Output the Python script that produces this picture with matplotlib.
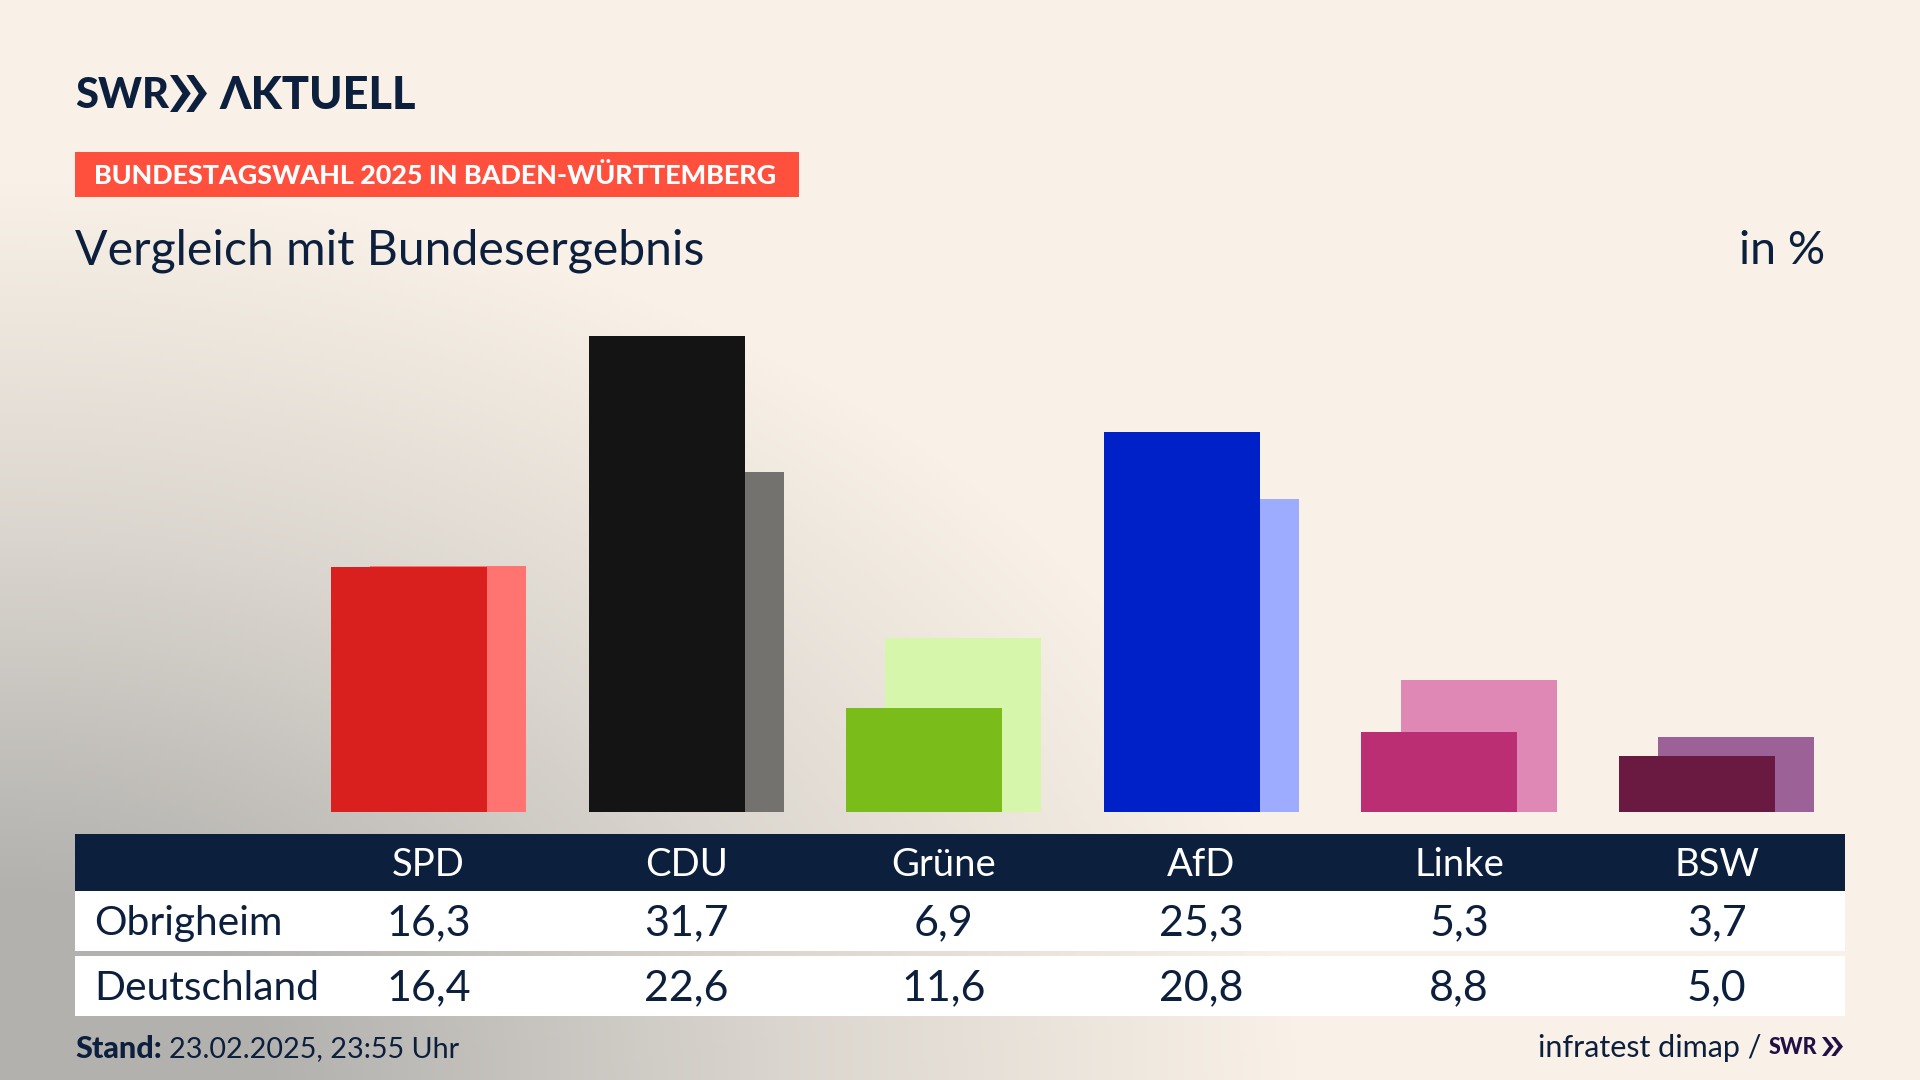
import numpy as np
import matplotlib
matplotlib.use('Agg')
import matplotlib.pyplot as plt
from matplotlib.colors import LinearSegmentedColormap
from matplotlib.patches import Polygon, Rectangle

plt.rcParams['font.family'] = ['Lato', 'DejaVu Sans']

# Data
parties = ['SPD', 'CDU', 'Grüne', 'AfD', 'Linke', 'BSW']
obrigheim = [16.3, 31.7, 6.9, 25.3, 5.3, 3.7]
deutschland = [16.4, 22.6, 11.6, 20.8, 8.8, 5.0]
front_colors = ['#D9201E', '#141414', '#7ABD1A', '#0021C8', '#BC2E74', '#6A1A40']
back_colors = ['#FF7370', '#74726F', '#D6F7AB', '#9EACFF', '#DF88B6', '#9C6197']
row_labels = ['Obrigheim', 'Deutschland']

NAVY = '#0C1F3D'
W, H = 1920, 1080
fig = plt.figure(figsize=(19.2, 10.8), dpi=100)

# overlay in pixel coords, background + table + text
ax = fig.add_axes([0, 0, 1, 1])
ax.set_xlim(0, W)
ax.set_ylim(H, 0)
ax.axis('off')

# background: grey glow out of the bottom left corner
yy, xx = np.mgrid[0:H:270j, 0:W:480j]
glow = np.clip(1 - np.sqrt((xx / 1300) ** 2 + ((H - yy) / 900) ** 2), 0, 1)
bg_cmap = LinearSegmentedColormap.from_list('bg', ['#F9F1E7', '#DAD5CE', '#B2B1AE'])
ax.imshow(glow, extent=[0, W, H, 0], cmap=bg_cmap, vmin=0, vmax=0.8, aspect='auto', zorder=0)


def chevrons(x, y, w, h, color):
    # the two >> of the SWR logo
    cw = w * 0.56
    for off in (0, w - cw):
        pts = [(x + off, y), (x + off + cw * 0.36, y), (x + off + cw, y + h / 2),
               (x + off + cw * 0.36, y + h), (x + off, y + h), (x + off + cw * 0.6, y + h / 2)]
        ax.add_patch(Polygon(pts, closed=True, color=color, lw=0, zorder=3))


# logo
ax.text(75, 96, 'SWR', fontsize=30, fontweight='black', color=NAVY, va='center', ha='left', zorder=3)
chevrons(170, 75, 37, 37, NAVY)
ax.text(219, 96, 'ΛKTUELL', fontsize=32.5, fontweight='black', color=NAVY, va='center', ha='left', zorder=3)

# badge + titles
ax.add_patch(Rectangle((75, 152), 724, 45, color='#FF4F3D', lw=0, zorder=2))
ax.text(94, 176, 'BUNDESTAGSWAHL 2025 IN BADEN-WÜRTTEMBERG', fontsize=19.4, fontweight='black',
        color='white', va='center', ha='left', zorder=3)
ax.text(75, 251, 'Vergleich mit Bundesergebnis', fontsize=34.7, color=NAVY, va='center', ha='left', zorder=3)
ax.text(1825, 251, 'in %', fontsize=33.5, color=NAVY, va='center', ha='right', zorder=3)

# bars, 15.03 px per percent point, groups 257.6 px apart
BASE, TOP = 812, 300
X0, STEP = 428.6, 257.6
ax_b = fig.add_axes([75 / W, 1 - BASE / H, 1770 / W, (BASE - TOP) / H])
ax_b.set_xlim((75 - X0) / STEP, (1845 - X0) / STEP)
ax_b.set_ylim(0, (BASE - TOP) / 15.03)
ax_b.axis('off')
ax_b.patch.set_alpha(0)
pos = np.arange(len(parties))
ax_b.bar(pos + 0.076, deutschland, width=0.606, color=back_colors, zorder=1)
ax_b.bar(pos - 0.076, obrigheim, width=0.606, color=front_colors, zorder=2)

# table
ax.add_patch(Rectangle((75, 834), 1770, 57, color=NAVY, lw=0, zorder=2))
ax.add_patch(Rectangle((75, 891), 1770, 60, color='white', lw=0, zorder=2))
ax.add_patch(Rectangle((75, 956), 1770, 60, color='white', lw=0, zorder=2))
for i, p in enumerate(parties):
    cx = X0 + STEP * i
    ax.text(cx, 865, p, fontsize=27.5, color='white', va='center', ha='center', zorder=3)
    ax.text(cx, 923, f'{obrigheim[i]:.1f}'.replace('.', ','), fontsize=31, color=NAVY, va='center', ha='center', zorder=3)
    ax.text(cx, 988, f'{deutschland[i]:.1f}'.replace('.', ','), fontsize=31, color=NAVY, va='center', ha='center', zorder=3)
ax.text(94, 923, row_labels[0], fontsize=29.3, color=NAVY, va='center', ha='left', zorder=3)
ax.text(94, 988, row_labels[1], fontsize=29.3, color=NAVY, va='center', ha='left', zorder=3)

# footer
ax.text(75, 1049, 'Stand:', fontsize=22, fontweight='black', color=NAVY, va='center', ha='left', zorder=3)
ax.text(169, 1049, '23.02.2025, 23:55 Uhr', fontsize=20.7, color=NAVY, va='center', ha='left', zorder=3)
ax.text(1761, 1048, 'infratest dimap /', fontsize=22, color=NAVY, va='center', ha='right', zorder=3)
ax.text(1769, 1048, 'SWR', fontsize=15.5, fontweight='black', color='#220F45', va='center', ha='left', zorder=3)
chevrons(1822, 1037, 21, 19, '#220F45')

fig.savefig('out.png', dpi=100)
